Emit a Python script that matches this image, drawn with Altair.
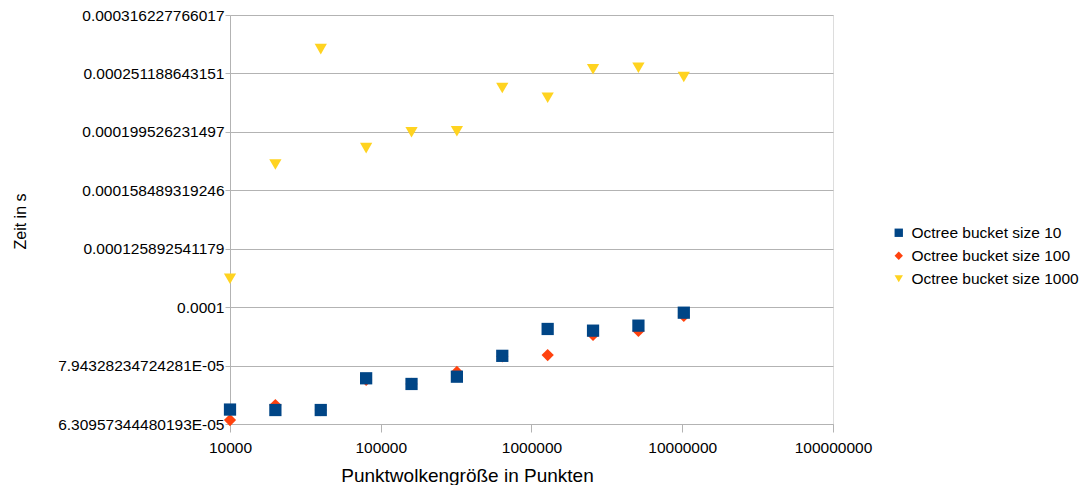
import altair as alt
import pandas as pd

# Point cloud sizes (x axis)
sizes = [10000, 20000, 40000, 80000, 160000, 320000, 640000, 1280000, 2560000, 5120000, 10240000]

# Times in seconds per series
bucket_10 = [6.679e-05, 6.667e-05, 6.667e-05, 7.555e-05, 7.388e-05, 7.603e-05, 8.254e-05, 9.176e-05, 9.115e-05, 9.297e-05, 9.784e-05]
bucket_100 = [6.409e-05, 6.800e-05, 6.667e-05, 7.505e-05, 7.388e-05, 7.745e-05, 8.240e-05, 8.281e-05, 8.961e-05, 9.104e-05, 9.658e-05]
bucket_1000 = [1.1187e-04, 1.7544e-04, 2.764e-04, 1.871e-04, 1.9925e-04, 2.0003e-04, 2.3711e-04, 2.2820e-04, 2.5537e-04, 2.5684e-04, 2.4772e-04]

series_names = ["Octree bucket size 10", "Octree bucket size 100", "Octree bucket size 1000"]
series_colors = ["#004586", "#ff420e", "#ffd320"]
series_shapes = ["square", "diamond", "triangle-down"]

y_tick_values = [6.30957344480193e-05, 7.94328234724281e-05, 0.0001, 0.000125892541179,
                 0.000158489319246, 0.000199526231497, 0.000251188643151, 0.000316227766017]
y_tick_labels = ["6.30957344480193E-05", "7.94328234724281E-05", "0.0001", "0.000125892541179",
                 "0.000158489319246", "0.000199526231497", "0.000251188643151", "0.000316227766017"]
x_tick_values = [10000, 100000, 1000000, 10000000, 100000000]

rows = []
# draw order: 1000 first, then 100, then 10 on top
for name, vals, order in [(series_names[2], bucket_1000, 0), (series_names[1], bucket_100, 1), (series_names[0], bucket_10, 2)]:
    for s, v in zip(sizes, vals):
        rows.append({"size": s, "time": v, "series": name, "ord": order})
df = pd.DataFrame(rows)

label_array = "[" + ",".join("'" + l + "'" for l in y_tick_labels) + "]"
y_label_expr = label_array + "[round((log(datum.value)/LN10+4.2)*10)]"

FONT = "Liberation Sans"
GRID = "#b3b3b3"

chart = alt.Chart(df).mark_point(filled=True, opacity=1, size=150, strokeWidth=0).encode(
    x=alt.X("size:Q",
            scale=alt.Scale(type="log", domain=[10000, 100000000], nice=False),
            axis=alt.Axis(values=x_tick_values, format="d", grid=False,
                          title="Punktwolkengröße in Punkten",
                          tickSize=8, tickColor=GRID, domainColor=GRID,
                          labelFont=FONT, labelFontSize=15.5, labelColor="#000000",
                          labelPadding=8, labelFlush=False,
                          titleFont=FONT, titleFontSize=19, titleFontWeight="normal",
                          titleColor="#000000", titleX=237, titleY=57,
                          titleAlign="center", titleBaseline="alphabetic")),
    y=alt.Y("time:Q",
            scale=alt.Scale(type="log", domain=[y_tick_values[0], y_tick_values[-1]], nice=False),
            axis=alt.Axis(values=y_tick_values, labelExpr=y_label_expr, grid=True,
                          gridColor=GRID, tickColor=GRID, domainColor=GRID, tickSize=5,
                          labelFont=FONT, labelFontSize=15.5, labelColor="#000000",
                          labelPadding=1, labelFlush=False,
                          title="Zeit in s",
                          titleFont=FONT, titleFontSize=16, titleFontWeight="normal",
                          titleColor="#000000", titleX=-210, titleY=206, titleAngle=270,
                          titleAlign="center", titleBaseline="middle")),
    color=alt.Color("series:N",
                    scale=alt.Scale(domain=series_names, range=series_colors),
                    legend=alt.Legend(title=None, orient="none", legendX=661, legendY=210,
                                      symbolSize=70, labelFont=FONT, labelFontSize=15.5,
                                      labelColor="#000000", labelOffset=5, rowPadding=6,
                                      padding=0, symbolStrokeWidth=0, labelLimit=400)),
    shape=alt.Shape("series:N",
                    scale=alt.Scale(domain=series_names, range=series_shapes)),
    order=alt.Order("ord:Q"),
).properties(
    width=603, height=409,
    autosize=alt.AutoSizeParams(type="none"),
    padding={"left": 222, "top": 7, "right": 249, "bottom": 61},
).configure_view(
    stroke=GRID, strokeWidth=1
).configure(background="#ffffff")

chart.save("out.html", embed_options={"renderer": "svg", "actions": False})
